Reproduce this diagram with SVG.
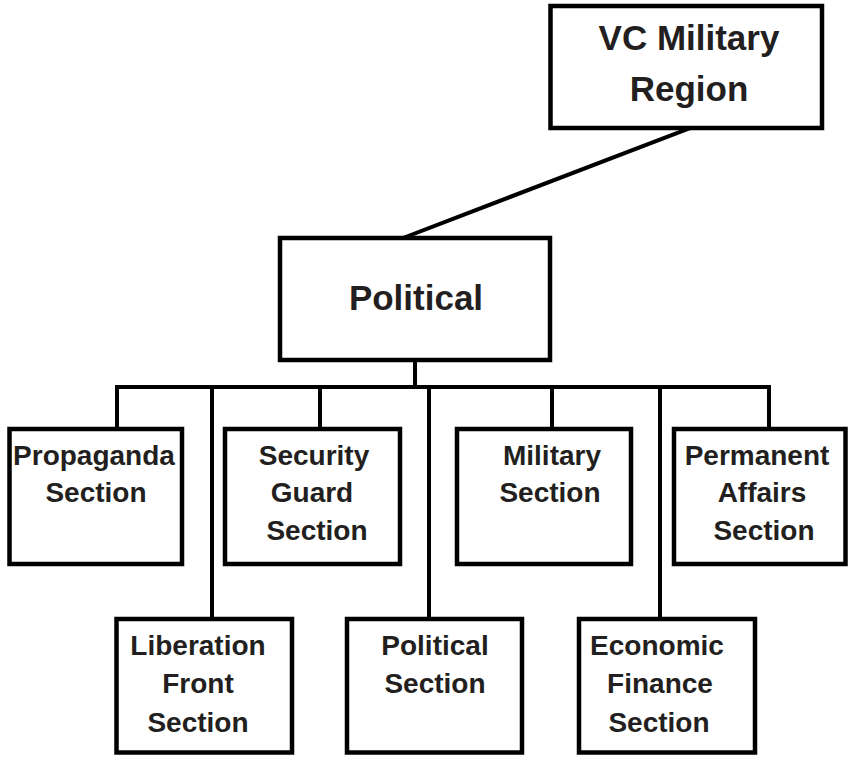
<svg xmlns="http://www.w3.org/2000/svg" width="849" height="758" viewBox="0 0 849 758">
  <style>
    .box { fill: #ffffff; stroke: #000000; stroke-width: 4.5; }
    .wire { fill: none; stroke: #000000; stroke-width: 4; stroke-linecap: square; }
    .lbl { font-family: "Liberation Sans", Arial, sans-serif; font-weight: bold; fill: #231f20; text-anchor: middle; }
    .big { font-size: 35px; }
    .small { font-size: 28px; }
  </style>
  <rect width="849" height="758" fill="#ffffff"/>

  <!-- connectors -->
  <g id="connectors">
    <line class="wire" x1="403" y1="238" x2="690" y2="128" stroke-width="3.5" stroke-linecap="butt"/>
    <line class="wire" x1="415" y1="360" x2="415" y2="387"/>
    <line class="wire" x1="117" y1="387" x2="769" y2="387"/>
    <line class="wire" x1="117" y1="387" x2="117" y2="429"/>
    <line class="wire" x1="212" y1="387" x2="212" y2="619"/>
    <line class="wire" x1="320" y1="387" x2="320" y2="429"/>
    <line class="wire" x1="429" y1="387" x2="429" y2="619"/>
    <line class="wire" x1="552" y1="387" x2="552" y2="429"/>
    <line class="wire" x1="660" y1="387" x2="660" y2="619"/>
    <line class="wire" x1="769" y1="387" x2="769" y2="429"/>
  </g>

  <g id="vc-military-region">
    <rect class="box" x="550.5" y="6" width="271.5" height="122"/>
    <text class="lbl big" x="689" y="50">VC Military</text>
    <text class="lbl big" x="689" y="101">Region</text>
  </g>

  <g id="political">
    <rect class="box" x="280" y="238" width="270" height="122"/>
    <text class="lbl big" x="416" y="310">Political</text>
  </g>

  <g id="propaganda-section">
    <rect class="box" x="9.5" y="429" width="172.5" height="135"/>
    <text class="lbl small" x="94" y="465">Propaganda</text>
    <text class="lbl small" x="96" y="502">Section</text>
  </g>

  <g id="security-guard-section">
    <rect class="box" x="225" y="429" width="175" height="135"/>
    <text class="lbl small" x="314" y="465">Security</text>
    <text class="lbl small" x="312" y="502">Guard</text>
    <text class="lbl small" x="317" y="540">Section</text>
  </g>

  <g id="military-section">
    <rect class="box" x="457" y="429" width="174" height="135"/>
    <text class="lbl small" x="552" y="465">Military</text>
    <text class="lbl small" x="550" y="502">Section</text>
  </g>

  <g id="permanent-affairs-section">
    <rect class="box" x="674" y="429" width="171.5" height="135"/>
    <text class="lbl small" x="757" y="465">Permanent</text>
    <text class="lbl small" x="762" y="502">Affairs</text>
    <text class="lbl small" x="764" y="540">Section</text>
  </g>

  <g id="liberation-front-section">
    <rect class="box" x="116.5" y="619" width="175.5" height="133.5"/>
    <text class="lbl small" x="198" y="655">Liberation</text>
    <text class="lbl small" x="198" y="693">Front</text>
    <text class="lbl small" x="198" y="732">Section</text>
  </g>

  <g id="political-section">
    <rect class="box" x="347" y="619" width="175" height="133.5"/>
    <text class="lbl small" x="435" y="655">Political</text>
    <text class="lbl small" x="435" y="693">Section</text>
  </g>

  <g id="economic-finance-section">
    <rect class="box" x="579" y="619" width="176" height="133.5"/>
    <text class="lbl small" x="657" y="655">Economic</text>
    <text class="lbl small" x="660" y="693">Finance</text>
    <text class="lbl small" x="659" y="732">Section</text>
  </g>
</svg>
